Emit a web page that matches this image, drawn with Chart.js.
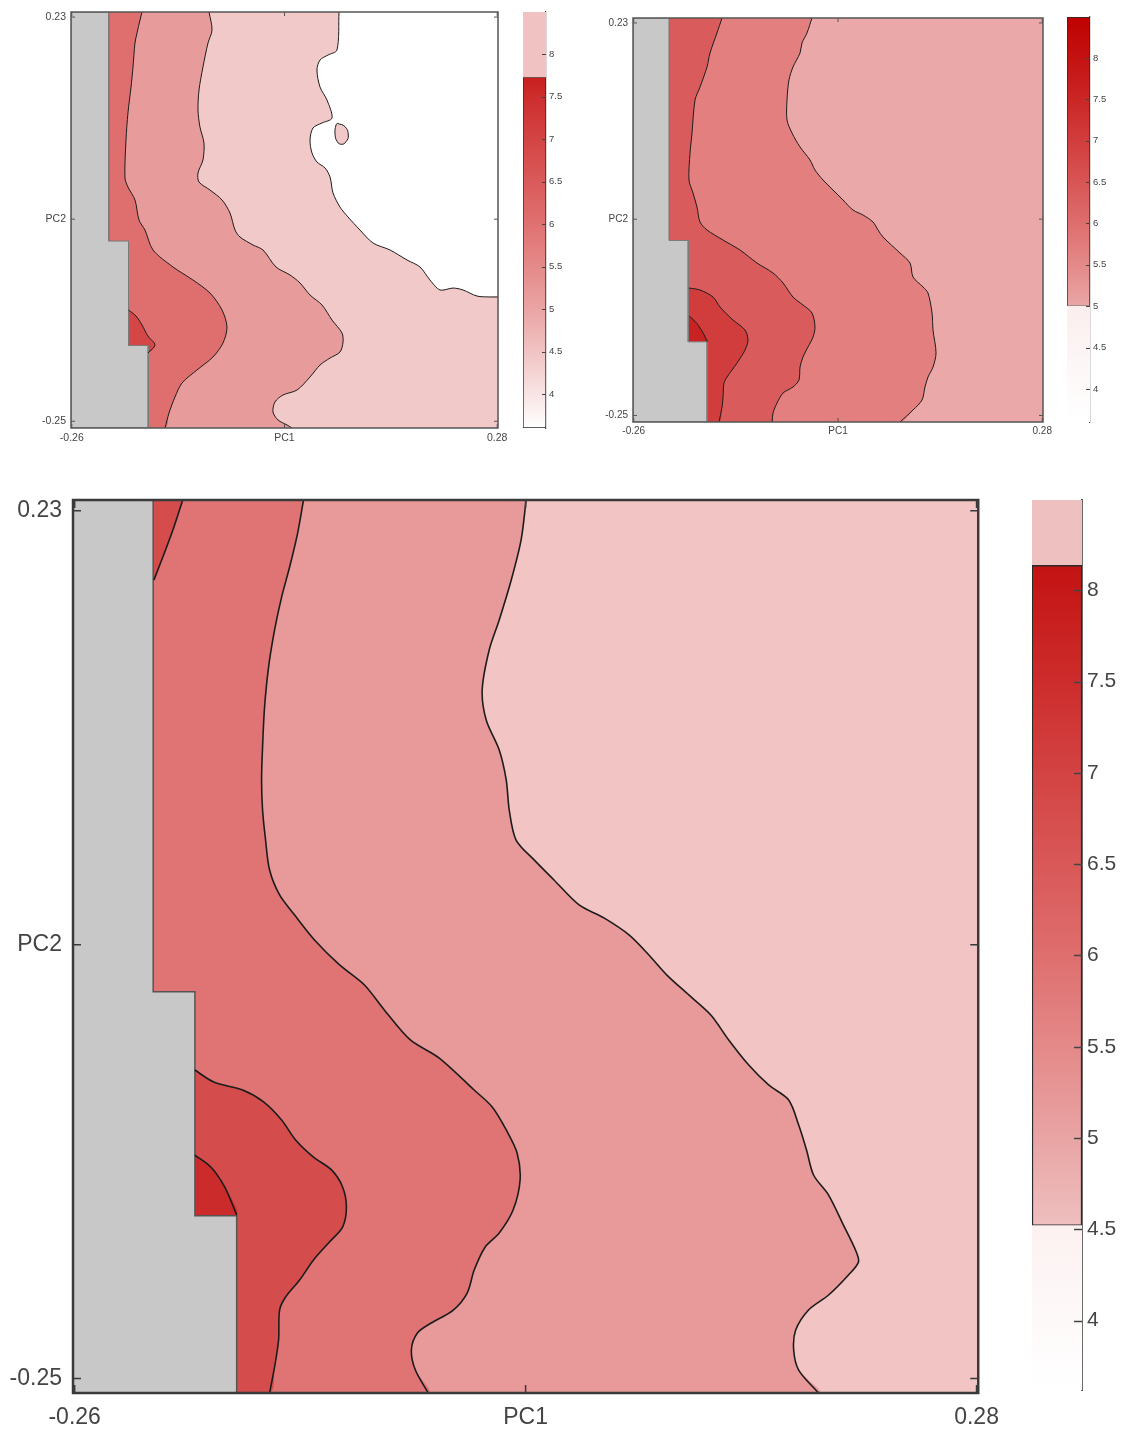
<!DOCTYPE html>
<html>
<head>
<meta charset="utf-8">
<title>PC1 / PC2 contour maps</title>
<script src="https://cdn.jsdelivr.net/npm/chart.js@4.4.1/dist/chart.umd.min.js"></script>
<style>
  html, body { margin: 0; padding: 0; background: #ffffff; }
  body { position: relative; width: 1121px; height: 1434px; overflow: hidden; }
  canvas { position: absolute; }
</style>
</head>
<body>
<canvas id="tlPanel" width="515" height="450" style="left:0px;top:0px"></canvas>
<canvas id="tlBar" width="55" height="450" style="left:515px;top:0px"></canvas>
<canvas id="trPanel" width="485" height="450" style="left:570px;top:0px"></canvas>
<canvas id="trBar" width="63" height="450" style="left:1058px;top:0px"></canvas>
<canvas id="bPanel" width="1010" height="964" style="left:0px;top:470px"></canvas>
<canvas id="bBar" width="101" height="964" style="left:1020px;top:470px"></canvas>
<script>
// ---------------- axes ----------------
const xMin = -0.261, xMax = 0.281, yMin = -0.258, yMax = 0.236;
const xTickValues = [-0.26, 0.01, 0.28];
const xTickLabels = ['-0.26', 'PC1', '0.28'];
const yTickValues = [0.23, -0.01, -0.25];
const yTickLabels = ['0.23', 'PC2', '-0.25'];

// grey (no-data) staircase shared by all three maps
const maskStepX = [-0.213, -0.188, -0.163];
const maskStepY = [-0.036, -0.160];

// ---------------- top-left map contours ----------------
const tlCurveA = [[-0.1709,0.236],[-0.1734,0.2265],[-0.1772,0.2111],[-0.1798,0.1992],[-0.1823,0.1707],[-0.1848,0.1469],[-0.1887,0.1161],[-0.1912,0.0840],[-0.1925,0.0389],[-0.1887,0.0282],[-0.1798,0.0128],[-0.1747,-0.0110],[-0.1671,-0.0229],[-0.1569,-0.0466],[-0.1315,-0.0668],[-0.1062,-0.0823],[-0.0846,-0.0977],[-0.0693,-0.1179],[-0.0630,-0.1381],[-0.0681,-0.1571],[-0.0808,-0.1737],[-0.1011,-0.1891],[-0.1201,-0.2046],[-0.1290,-0.2212],[-0.1366,-0.2402],[-0.1417,-0.258]];
const tlCurveB = [[-0.0858,0.236],[-0.0820,0.2146],[-0.0871,0.1992],[-0.0935,0.1707],[-0.0985,0.1434],[-0.0998,0.1196],[-0.0973,0.0994],[-0.0922,0.0804],[-0.0935,0.0603],[-0.0998,0.0448],[-0.0985,0.0341],[-0.0846,0.0246],[-0.0693,0.0128],[-0.0592,-0.0027],[-0.0528,-0.0229],[-0.0465,-0.0312],[-0.0300,-0.0407],[-0.0173,-0.0466],[-0.0008,-0.0668],[0.0170,-0.0763],[0.0297,-0.0858],[0.0424,-0.1001],[0.0576,-0.1119],[0.0703,-0.1298],[0.0830,-0.1452],[0.0843,-0.1559],[0.0804,-0.1678],[0.0678,-0.1749],[0.0551,-0.1832],[0.0424,-0.1974],[0.0259,-0.2129],[0.0081,-0.2188],[-0.0021,-0.2271],[-0.0046,-0.2390],[0.0018,-0.2485],[0.0132,-0.2544],[0.0195,-0.258]];
const tlCurveC = [[0.0792,0.236],[0.0766,0.1909],[0.0652,0.1849],[0.0551,0.1790],[0.0512,0.1671],[0.0551,0.1469],[0.0639,0.1315],[0.0703,0.1101],[0.0576,0.1042],[0.0462,0.0983],[0.0424,0.0840],[0.0449,0.0686],[0.0512,0.0579],[0.0614,0.0508],[0.0678,0.0401],[0.0716,0.0211],[0.0804,0.0044],[0.0906,-0.0074],[0.1058,-0.0229],[0.1223,-0.0383],[0.1439,-0.0466],[0.1655,-0.0585],[0.1820,-0.0668],[0.1947,-0.0823],[0.2074,-0.0941],[0.2239,-0.0918],[0.2366,-0.0941],[0.2543,-0.1013],[0.2708,-0.1024],[0.281,-0.1024]];
const tlIsland = [[0.0770,0.1038],[0.0868,0.0998],[0.0910,0.0899],[0.0881,0.0820],[0.0826,0.0789],[0.0770,0.0820],[0.0741,0.0920],[0.0754,0.1018],[0.0770,0.1038]];
const tlCore = [[-0.188,-0.1179],[-0.1785,-0.1250],[-0.1709,-0.1357],[-0.1633,-0.1488],[-0.1544,-0.1594],[-0.1633,-0.1689]];

// ---------------- top-right map contours ----------------
const trCurveD = [[-0.1870,-0.0942],[-0.1724,-0.0966],[-0.1552,-0.1052],[-0.1460,-0.1174],[-0.1288,-0.1333],[-0.1129,-0.1455],[-0.1090,-0.1577],[-0.1129,-0.1700],[-0.1235,-0.1859],[-0.1367,-0.2030],[-0.1407,-0.2103],[-0.1420,-0.2274],[-0.1433,-0.2397],[-0.1473,-0.258]];
const trCurveE = [[-0.1433,0.236],[-0.1500,0.2177],[-0.1592,0.1932],[-0.1632,0.1761],[-0.1724,0.1516],[-0.1790,0.1357],[-0.1830,0.0954],[-0.1856,0.0709],[-0.1870,0.0379],[-0.1817,0.0220],[-0.1764,0.0049],[-0.1724,-0.0135],[-0.1632,-0.0232],[-0.1420,-0.0355],[-0.1195,-0.0477],[-0.0971,-0.0636],[-0.0759,-0.0758],[-0.0627,-0.0880],[-0.0495,-0.1052],[-0.0363,-0.1149],[-0.0244,-0.1247],[-0.0204,-0.1419],[-0.0230,-0.1541],[-0.0297,-0.1663],[-0.0363,-0.1785],[-0.0402,-0.1908],[-0.0416,-0.2067],[-0.0495,-0.2152],[-0.0627,-0.2226],[-0.0706,-0.2348],[-0.0759,-0.2470],[-0.0772,-0.258]];
const trCurveF = [[-0.0244,0.236],[-0.0310,0.2177],[-0.0376,0.2054],[-0.0402,0.1932],[-0.0495,0.1761],[-0.0548,0.1602],[-0.0574,0.1357],[-0.0574,0.1113],[-0.0508,0.0954],[-0.0402,0.0783],[-0.0270,0.0624],[-0.0204,0.0501],[-0.0098,0.0379],[0.0034,0.0257],[0.0166,0.0135],[0.0298,0.0012],[0.0431,-0.0049],[0.0563,-0.0135],[0.0629,-0.0232],[0.0695,-0.0318],[0.0920,-0.0514],[0.1052,-0.0636],[0.1092,-0.0807],[0.1224,-0.0929],[0.1290,-0.1003],[0.1343,-0.1247],[0.1356,-0.1455],[0.1396,-0.1736],[0.1356,-0.1908],[0.1290,-0.2030],[0.1250,-0.2152],[0.1211,-0.2311],[0.1092,-0.2433],[0.0920,-0.258]];
const trCore = [[-0.1866,-0.1284],[-0.1768,-0.1373],[-0.1681,-0.1495],[-0.1628,-0.1598]];

// ---------------- bottom map contours ----------------
const bCurve1 = [[-0.1230,0.236],[-0.1265,0.2177],[-0.1313,0.1989],[-0.1361,0.1823],[-0.1403,0.1641],[-0.1439,0.1436],[-0.1463,0.1215],[-0.1475,0.0994],[-0.1481,0.0811],[-0.1475,0.0645],[-0.1457,0.0479],[-0.1433,0.0313],[-0.1373,0.0175],[-0.1283,0.0064],[-0.1164,-0.0074],[-0.1014,-0.0212],[-0.0865,-0.0323],[-0.0746,-0.0461],[-0.0590,-0.0627],[-0.0417,-0.0727],[-0.0208,-0.0904],[-0.0100,-0.0998],[-0.0016,-0.1125],[0.0049,-0.1252],[0.0067,-0.1402],[0.0025,-0.1568],[-0.0058,-0.1695],[-0.0142,-0.1772],[-0.0208,-0.1900],[-0.0250,-0.2027],[-0.0333,-0.2121],[-0.0465,-0.2193],[-0.0548,-0.2248],[-0.0584,-0.2342],[-0.0560,-0.2453],[-0.0483,-0.258]];
const bCurve2 = [[0.0103,0.236],[0.0073,0.2139],[0.0014,0.1917],[-0.0058,0.1696],[-0.0118,0.1530],[-0.0160,0.1309],[-0.0136,0.1143],[-0.0058,0.0977],[-0.0016,0.0811],[0.0002,0.0645],[0.0043,0.0479],[0.0151,0.0369],[0.0270,0.0258],[0.0420,0.0120],[0.0569,0.0048],[0.0719,-0.0046],[0.0838,-0.0157],[0.0946,-0.0268],[0.1077,-0.0378],[0.1209,-0.0489],[0.1316,-0.0627],[0.1436,-0.0766],[0.1555,-0.0876],[0.1675,-0.0959],[0.1735,-0.1098],[0.1782,-0.1236],[0.1824,-0.1374],[0.1914,-0.1485],[0.2003,-0.1651],[0.2075,-0.1789],[0.2093,-0.1855],[0.2033,-0.1927],[0.1914,-0.2038],[0.1794,-0.2121],[0.1717,-0.2232],[0.1705,-0.2342],[0.1735,-0.2453],[0.1854,-0.258]];
const bCurve3 = [[-0.1881,-0.0793],[-0.1767,-0.0860],[-0.1594,-0.0904],[-0.1469,-0.0970],[-0.1361,-0.1070],[-0.1277,-0.1180],[-0.1170,-0.1275],[-0.1062,-0.1346],[-0.0996,-0.1440],[-0.0973,-0.1551],[-0.0996,-0.1662],[-0.1080,-0.1750],[-0.1170,-0.1844],[-0.1253,-0.1955],[-0.1337,-0.2049],[-0.1373,-0.2121],[-0.1379,-0.2287],[-0.1403,-0.2436],[-0.1433,-0.258]];
const bCore = [[-0.1881,-0.1264],[-0.1785,-0.1330],[-0.1702,-0.1440],[-0.1630,-0.1595]];
const bTopCore = [[-0.1953,0.236],[-0.2012,0.2194],[-0.2072,0.2045],[-0.2126,0.1917]];

// ---------------- colour bars ----------------
const cbMin = 3.6, cbMax = 8.495;
const cbTickValues = [4, 4.5, 5, 5.5, 6, 6.5, 7, 7.5, 8];
const cbTickLabels = ['4', '4.5', '5', '5.5', '6', '6.5', '7', '7.5', '8'];

const tlCapBox = [7.73, 8.495];
const tlRampValues = [3.6, 4, 4.5, 5, 5.5, 6, 6.5, 7, 7.5, 7.73];
const tlRampColors = ['#ffffff', '#f9e4e4', '#f1c3c3', '#eaa4a4', '#e58a8a', '#e07171', '#da5a5a', '#d44444', '#cd2d2d', '#c81e1e'];

const trRampValues = [5, 5.5, 6, 6.5, 7, 7.5, 8, 8.495];
const trRampColors = ['#eaa6a6', '#e48989', '#de6e6e', '#d85555', '#d23d3d', '#cb2626', '#c41212', '#bf0000'];
const trFadeValues = [3.6, 5];
const trFadeColors = ['#ffffff', '#fbeeee'];

const bCapBox = [8.137, 8.495];
const bRampValues = [4.52, 5, 5.5, 6, 6.5, 7, 7.5, 8, 8.137];
const bRampColors = ['#efbfbf', '#e9a4a4', '#e48989', '#df6e6e', '#d95858', '#d34343', '#cd2c2c', '#c61818', '#c41212'];
const bFadeValues = [3.62, 4.52];
const bFadeColors = ['#ffffff', '#fcf1f1'];

// ---------------- helpers ----------------
const FONT = '"Liberation Sans", Arial, Helvetica, sans-serif';
const TENSION = 0.3;
const pts = a => a.map(p => ({ x: p[0], y: p[1] }));
const last = a => a[a.length - 1];

function area(points, color, order, tension) {
  return { data: pts(points), showLine: true, fill: 'shape', backgroundColor: color,
    borderColor: 'rgba(0,0,0,0)', borderWidth: 0, pointRadius: 0, pointHoverRadius: 0,
    tension: tension === undefined ? TENSION : tension, order: order };
}
function edge(points, width, order, tension) {
  return { data: pts(points), showLine: true, fill: false, backgroundColor: 'rgba(0,0,0,0)',
    borderColor: '#1c1c1c', borderWidth: width, pointRadius: 0, pointHoverRadius: 0,
    tension: tension === undefined ? TENSION : tension, order: order };
}
const leftOf = c => c.concat([[xMin, yMin], [xMin, yMax]]);
const fullRect = () => [[xMin, yMax], [xMax, yMax], [xMax, yMin], [xMin, yMin]];
const coreArea = c => c.concat([[maskStepX[1], last(c)[1]]]);
function maskArea(borderColor, borderWidth) {
  const m = [[xMin, yMax], [maskStepX[0], yMax], [maskStepX[0], maskStepY[0]], [maskStepX[1], maskStepY[0]],
             [maskStepX[1], maskStepY[1]], [maskStepX[2], maskStepY[1]], [maskStepX[2], yMin], [xMin, yMin], [xMin, yMax]];
  const d = area(m, '#c8c8c8', 60, 0);
  d.borderColor = borderColor; d.borderWidth = borderWidth;
  return d;
}

const framePlugin = {
  id: 'frame',
  afterDatasetsDraw(chart, args, o) {
    const { ctx, chartArea: a, scales } = chart;
    ctx.save();
    ctx.strokeStyle = o.color; ctx.lineWidth = o.width;
    ctx.strokeRect(a.left, a.top, a.right - a.left, a.bottom - a.top);
    ctx.beginPath();
    scales.x.ticks.forEach(t => {
      const p = scales.x.getPixelForValue(t.value);
      ctx.moveTo(p, a.bottom); ctx.lineTo(p, a.bottom - o.tick);
      ctx.moveTo(p, a.top); ctx.lineTo(p, a.top + o.tick);
    });
    scales.y.ticks.forEach(t => {
      const p = scales.y.getPixelForValue(t.value);
      ctx.moveTo(a.left, p); ctx.lineTo(a.left + o.tick, p);
      ctx.moveTo(a.right, p); ctx.lineTo(a.right - o.tick, p);
    });
    ctx.lineWidth = o.tickWidth;
    ctx.stroke();
    ctx.restore();
  }
};

function panelChart(id, g, datasets) {
  return new Chart(document.getElementById(id), {
    type: 'scatter',
    data: { datasets: datasets },
    options: {
      responsive: false, animation: false, events: [], devicePixelRatio: 1,
      layout: { padding: { left: 0, top: g.padTop, right: g.padRight, bottom: 0 } },
      plugins: { legend: { display: false }, tooltip: { enabled: false },
        frame: { color: g.frameColor, width: g.frameWidth, tick: g.tickLen, tickWidth: g.tickWidth } },
      scales: {
        x: { type: 'linear', min: xMin, max: xMax,
          grid: { display: false, drawTicks: false }, border: { display: false },
          afterBuildTicks: s => { s.ticks = xTickValues.map(v => ({ value: v })); },
          afterFit: s => { s.height = g.xAxisH; },
          ticks: { autoSkip: false, maxRotation: 0, minRotation: 0, padding: g.xPad, color: '#444',
            font: { family: FONT, size: g.font }, callback: (v, i) => xTickLabels[i] } },
        y: { type: 'linear', min: yMin, max: yMax,
          grid: { display: false, drawTicks: false }, border: { display: false },
          afterBuildTicks: s => { s.ticks = yTickValues.map(v => ({ value: v })); },
          afterFit: s => { s.width = g.yAxisW; },
          ticks: { autoSkip: false, padding: g.yPad, color: '#444',
            font: { family: FONT, size: g.font }, callback: (v, i) => yTickLabels[i] } }
      }
    },
    plugins: [framePlugin]
  });
}

function ramp(values, colors) {
  return (c) => {
    const chart = c.chart, ys = chart.scales.y;
    if (!chart.chartArea || !ys) return colors[colors.length - 1];
    const lo = values[0], hi = values[values.length - 1];
    const grad = chart.ctx.createLinearGradient(0, ys.getPixelForValue(hi), 0, ys.getPixelForValue(lo));
    values.forEach((v, i) => grad.addColorStop((hi - v) / (hi - lo), colors[i]));
    return grad;
  };
}

const cbTickPlugin = {
  id: 'cbTicks',
  afterDraw(chart, args, o) {
    const { ctx, chartArea: a, scales: { y } } = chart;
    ctx.save();
    ctx.strokeStyle = o.color; ctx.lineWidth = o.width;
    ctx.beginPath();
    y.ticks.forEach(t => {
      const p = Math.round(y.getPixelForValue(t.value)) + 0.5;
      ctx.moveTo(a.right - o.len, p); ctx.lineTo(a.right, p);
    });
    ctx.stroke();
    ctx.restore();
  }
};

function colorbarChart(id, g, bars, minV) {
  return new Chart(document.getElementById(id), {
    type: 'bar',
    data: { labels: [''], datasets: bars.map(b => ({
      data: [[b.lo, b.hi]], backgroundColor: b.fill,
      borderColor: b.border ? '#2a2a2a' : 'rgba(0,0,0,0)', borderWidth: b.border ? g.boxBorder : 0,
      borderSkipped: false, grouped: false, barPercentage: 1, categoryPercentage: 1 })) },
    options: {
      responsive: false, animation: false, events: [], devicePixelRatio: 1,
      layout: { padding: { left: g.padLeft, top: g.padTop, bottom: g.padBottom, right: 0 } },
      plugins: { legend: { display: false }, tooltip: { enabled: false },
        cbTicks: { color: '#444', width: g.tickWidth, len: g.tickLen } },
      scales: {
        x: { display: false },
        y: { position: 'right', min: minV, max: cbMax,
          grid: { display: false, drawTicks: false },
          border: { display: true, color: '#444', width: g.axisWidth },
          afterBuildTicks: s => { s.ticks = cbTickValues.map(v => ({ value: v })); },
          afterFit: s => { s.width = g.yAxisW; },
          ticks: { autoSkip: false, padding: g.tickPad, color: '#444',
            font: { family: FONT, size: g.font }, callback: (v, i) => cbTickLabels[i] } }
      }
    },
    plugins: [cbTickPlugin]
  });
}

// ---------------- top-left map ----------------
panelChart('tlPanel',
  { padTop: 12, padRight: 17, xAxisH: 22, yAxisW: 71, xPad: 4, yPad: 5, font: 10.5,
    frameColor: '#555', frameWidth: 1.5, tickLen: 4, tickWidth: 1 },
  [
    area(tlCurveC.concat([[xMax, yMin], [xMin, yMin], [xMin, yMax]]), '#f2c9c9', 100),
    area(tlIsland, '#f2c9c9', 95, 0.5),
    area(leftOf(tlCurveB), '#e89b9b', 90),
    area(leftOf(tlCurveA), '#df6f6f', 80),
    area(coreArea(tlCore), '#d54646', 70),
    maskArea('#7a7a7a', 1),
    edge(tlCurveA, 1, 10), edge(tlCurveB, 1, 10), edge(tlCurveC, 1, 10),
    edge(tlIsland, 1, 10, 0.5), edge(tlCore, 1, 10)
  ]);

// ---------------- top-right map ----------------
panelChart('trPanel',
  { padTop: 18, padRight: 12, xAxisH: 28, yAxisW: 63, xPad: 3, yPad: 5, font: 10,
    frameColor: '#555', frameWidth: 1.5, tickLen: 4, tickWidth: 1 },
  [
    area(fullRect(), '#eba8a8', 100, 0),
    area(leftOf(trCurveF), '#e47f7f', 90),
    area(leftOf(trCurveE), '#da5b5b', 80),
    area(trCurveD.concat([[maskStepX[1], yMin]]), '#d13c3c', 70),
    area(coreArea(trCore), '#c92222', 65),
    maskArea('#7a7a7a', 1),
    edge(trCurveD, 1, 10), edge(trCurveE, 1, 10), edge(trCurveF, 1, 10), edge(trCore, 1, 10)
  ]);

// ---------------- bottom map ----------------
panelChart('bPanel',
  { padTop: 30, padRight: 30, xAxisH: 41, yAxisW: 73, xPad: 11, yPad: 11, font: 23,
    frameColor: '#3a3a3a', frameWidth: 2.5, tickLen: 8, tickWidth: 1.5 },
  [
    area(fullRect(), '#f2c4c4', 100, 0),
    area(leftOf(bCurve2), '#e89999', 90),
    area(leftOf(bCurve1), '#e07474', 80),
    area(bTopCore.concat([[maskStepX[0], yMax]]), '#d44c4c', 75),
    area(bCurve3.concat([[maskStepX[1], yMin]]), '#d44c4c', 70),
    area(coreArea(bCore), '#cc2b2b', 65),
    maskArea('#555555', 1.5),
    edge(bCurve1, 1.6, 10), edge(bCurve2, 1.6, 10), edge(bCurve3, 1.6, 10),
    edge(bCore, 1.6, 10), edge(bTopCore, 1.6, 10)
  ]);

// ---------------- colour bars ----------------
colorbarChart('tlBar',
  { padLeft: 8, padTop: 12, padBottom: 22, yAxisW: 24, tickPad: 3, font: 9.5, boxBorder: 1,
    axisWidth: 1.2, tickLen: 4, tickWidth: 1 },
  [
    { lo: tlCapBox[0], hi: tlCapBox[1], fill: '#f0c2c2', border: false },
    { lo: tlRampValues[0], hi: last(tlRampValues), fill: ramp(tlRampValues, tlRampColors), border: true }
  ], cbMin);

colorbarChart('trBar',
  { padLeft: 9, padTop: 17, padBottom: 28, yAxisW: 31, tickPad: 3, font: 9.5, boxBorder: 1,
    axisWidth: 1.2, tickLen: 4, tickWidth: 1 },
  [
    { lo: trFadeValues[0], hi: last(trFadeValues), fill: ramp(trFadeValues, trFadeColors), border: false },
    { lo: trRampValues[0], hi: last(trRampValues), fill: ramp(trRampValues, trRampColors), border: true }
  ], cbMin);

colorbarChart('bBar',
  { padLeft: 12, padTop: 30, padBottom: 44, yAxisW: 39, tickPad: 5, font: 21, boxBorder: 1.5,
    axisWidth: 1.8, tickLen: 8, tickWidth: 1.5 },
  [
    { lo: bFadeValues[0], hi: last(bFadeValues), fill: ramp(bFadeValues, bFadeColors), border: false },
    { lo: bRampValues[0], hi: last(bRampValues), fill: ramp(bRampValues, bRampColors), border: true },
    { lo: bCapBox[0], hi: bCapBox[1], fill: '#efc0c0', border: false }
  ], 3.62);
</script>
</body>
</html>
